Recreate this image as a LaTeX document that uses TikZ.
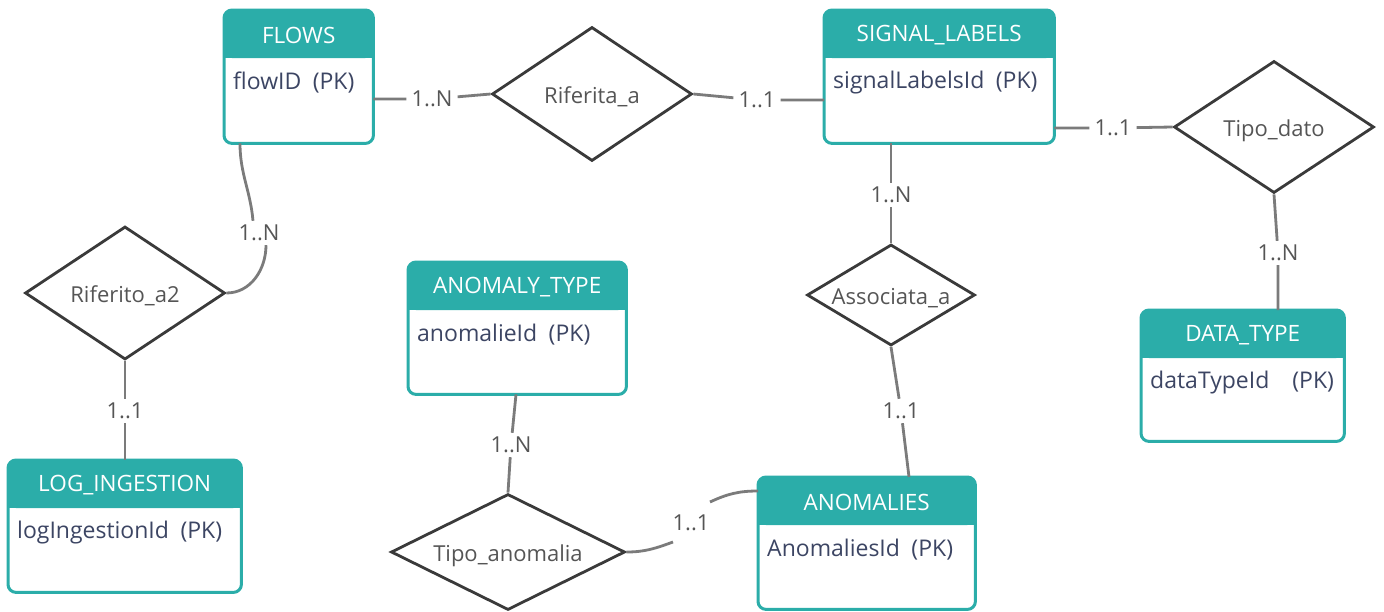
\documentclass[tikz,border=0pt]{standalone}
\usepackage{fontspec}
\setmainfont{Open Sans}
\usetikzlibrary{shapes.geometric,calc}

\definecolor{hdr}{HTML}{2BADA9}
\definecolor{attrc}{HTML}{3C4563}
\definecolor{lblc}{HTML}{555555}
\definecolor{connc}{HTML}{7B7B7B}
\definecolor{diac}{HTML}{3A3A3A}

\tikzset{
  entbox/.style={rectangle, draw=none, inner sep=0pt},
  enttitle/.style={text=white, font=\fontsize{22.5}{26}\selectfont, inner sep=0pt},
  entattr/.style={text=attrc, font=\fontsize{23}{27}\selectfont, inner sep=0pt},
  rel/.style={diamond, draw=diac, line width=2.8pt, inner sep=0pt, shape aspect=2.2,
    text=lblc, font=\fontsize{22}{26}\selectfont, text height=18pt, text depth=0pt},
  card/.style={text=lblc, font=\fontsize{22}{26}\selectfont, inner xsep=5pt, inner ysep=4pt},
  conn/.style={draw=connc, line width=2.8pt},
}

% entity box: name, x, y (top-left), width, height, title, key attribute
\newcommand{\erentity}[7]{%
  \node[entbox, minimum width=#4pt, minimum height=#5pt, anchor=north west] (#1) at (#2,#3) {};
  \fill[hdr, rounded corners=8pt] (#1.north west) rectangle ([yshift=-48pt]#1.north east);
  \fill[hdr] ([yshift=-24pt]#1.north west) rectangle ([yshift=-48pt]#1.north east);
  \draw[hdr, line width=3pt, rounded corners=8pt] (#1.north west) rectangle (#1.south east);
  \node[enttitle] (#1-t) at ([yshift=-25pt]#1.north) {#6};
  \node[entattr, anchor=west] (#1-a) at ([xshift=9pt,yshift=-73pt]#1.north west) {#7};
}

\begin{document}
\begin{tikzpicture}[x=1pt,y=-1pt]
\useasboundingbox (0,0) rectangle (1384,611);

% entities
\erentity{flows}{224}{10}{149}{133}{FLOWS}{flowID\enspace(PK)}
\erentity{siglab}{824}{10}{230}{133}{SIGNAL\_LABELS}{signalLabelsId\enspace(PK)}
\erentity{anomtype}{408}{262}{218}{132}{ANOMALY\_TYPE}{anomalieId\enspace(PK)}
\erentity{datatype}{1141}{310}{203}{131}{DATA\_TYPE}{dataTypeId\enspace\enspace(PK)}
\erentity{logi}{8}{460}{233}{132}{LOG\_INGESTION}{logIngestionId\enspace(PK)}
\erentity{anomalies}{758}{477}{217}{132}{ANOMALIES}{AnomaliesId\enspace(PK)}

% relationships
\node[rel, minimum width=200pt, minimum height=134pt] (rifa) at (592,94) {Riferita\_a};
\node[rel, minimum width=200pt, minimum height=132pt] (tipodato) at (1274,127) {Tipo\_dato};
\node[rel, minimum width=200pt, minimum height=133pt] (rif2) at (125,293) {Riferito\_a2};
\node[rel, minimum width=168pt, minimum height=101pt] (assoc) at (891,295) {Associata\_a};
\node[rel, minimum width=234pt, minimum height=116pt] (tipoan) at (508,552) {Tipo\_anomalia};

% cardinalities
\node[card] (cfr) at (432,99) {1..N};
\node[card] (crs) at (757,100) {1..1};
\node[card] (cst) at (1113,128) {1..1};
\node[card] (ctd) at (1278,253) {1..N};
\node[card] (csa) at (891,195) {1..N};
\node[card] (caa) at (901,411) {1..1};
\node[card] (cat) at (511,445) {1..N};
\node[card] (cta) at (691,523) {1..1};
\node[card] (cfl) at (259,233) {1..N};
\node[card] (crl) at (125,411) {1..1};

% connectors
\draw[conn] (flows.east |- cfr) -- (cfr) -- (rifa.west);
\draw[conn] (rifa.east) -- (crs) -- (siglab.west |- crs);
\draw[conn] (siglab.east |- cst) -- (cst) -- (tipodato.west);
\draw[conn] (tipodato.south) -- (ctd) -- (datatype.north -| ctd);
\draw[conn] (siglab.south -| csa) -- (csa) -- (assoc.north);
\draw[conn] (assoc.south) -- (caa) -- (anomalies.north -| 909,0);
\draw[conn] (anomtype.south -| 516,0) -- (cat) -- (tipoan.north);
\draw[conn] (rif2.south) -- (crl) -- (logi.north -| crl);

\draw[conn] ([xshift=16pt]flows.south west) to[out=-90,in=95] ([xshift=-6pt]cfl.north);
\draw[conn] ([xshift=7pt]cfl.south) to[out=-90,in=0] (rif2.east);

\coordinate (ta1) at (673,542);
\coordinate (ta2) at (710,502);
\draw[conn] (tipoan.east) to[out=0,in=200] (ta1);
\draw[conn] (ta2) to[out=25,in=180] ([yshift=-14pt]anomalies.north west);
\end{tikzpicture}
\end{document}
